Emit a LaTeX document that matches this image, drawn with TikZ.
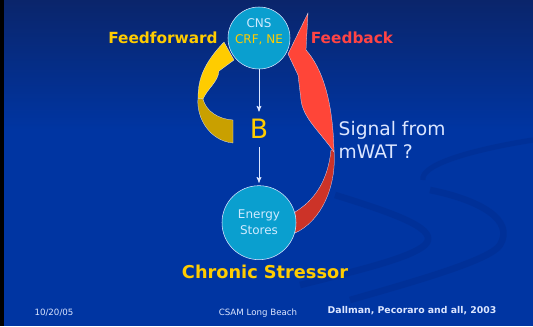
\documentclass[tikz,border=0pt]{standalone}
\usepackage{fontspec}
\setmainfont{DejaVu Sans}
\usetikzlibrary{arrows,positioning}

\definecolor{slidetop}{HTML}{0A256B}
\definecolor{slideblue}{HTML}{0035A2}
\definecolor{swoosh}{HTML}{002C8C}
\definecolor{hubfill}{HTML}{0A9FCF}
\definecolor{ffyellow}{HTML}{FFCC00}
\definecolor{ffgold}{HTML}{C9A000}
\definecolor{fbred}{HTML}{FF4538}
\definecolor{fbdark}{HTML}{CC3328}
\definecolor{fbtext}{HTML}{FF4444}
\definecolor{paletext}{HTML}{DCE6FF}
\definecolor{hubtext}{HTML}{CFEAFF}

\begin{document}
\begin{tikzpicture}[x=0.75pt,y=-0.75pt,>=stealth',node distance=68pt]
  \tikzstyle{hub}=[circle,fill=hubfill,draw=paletext,thin,inner sep=0pt]
  \tikzstyle{ribbon}=[draw=paletext,very thin]
  \tikzstyle{flow}=[->,draw=paletext,semithick,shorten >=2pt]
  \tikzstyle{footer}=[text=paletext,font=\fontsize{6.5}{8}\selectfont]

  % slide background
  \useasboundingbox (0,0) rectangle (533,326);
  \fill[slideblue] (0,0) rectangle (533,326);
  \shade[top color=slidetop,bottom color=slideblue] (0,0) rectangle (533,130);
  \draw[swoosh,line width=5pt,opacity=.45] (335,195) .. controls (400,215) and (440,230) .. (425,245)
        .. controls (410,258) and (360,270) .. (300,285);
  \draw[swoosh,line width=4pt,opacity=.45] (423,180) .. controls (420,165) and (470,150) .. (533,140);
  \draw[swoosh,line width=5pt,opacity=.45] (430,190) .. controls (480,200) and (515,220) .. (500,245)
        .. controls (490,260) and (420,280) .. (350,300);
  \fill[black] (0,0) rectangle (4,326);

  % feedforward ribbon
  \filldraw[ribbon,fill=ffgold] (198,98) .. controls (196,118) and (210,141) .. (233,143)
        -- (233,120) .. controls (218,119) and (206,111) .. (203,99) -- cycle;
  \filldraw[ribbon,fill=ffyellow] (198,98) .. controls (198,80) and (203,64) .. (224,42)
        -- (234,60) -- (219,71) .. controls (218,82) and (208,88) .. (203,99) -- cycle;

  % feedback ribbon
  \filldraw[ribbon,fill=fbdark] (334,150) .. controls (337,188) and (320,222) .. (295,233)
        -- (295,212) .. controls (315,200) and (328,180) .. (331,150) -- cycle;
  \filldraw[ribbon,fill=fbred] (308,13) -- (306,50) .. controls (322,68) and (333,100) .. (334,152)
        .. controls (320,132) and (303,118) .. (301,100) -- (298,75) -- (288,54) -- cycle;

  \node[hub,minimum size=46.5pt] (cns) at (259,38) {};
  \node[align=center,font=\fontsize{9}{12}\selectfont] (cnslabel) at (259,32)
        {{\color{hubtext}CNS}\\{\color{ffyellow}CRF, NE}};
  \node[text=ffyellow,font=\fontsize{20}{24}\selectfont] (b) [below of=cns] {B};
  \node[hub,minimum size=55.5pt,align=center,text=hubtext,font=\fontsize{9}{12}\selectfont]
        (energy) [below of=b,node distance=70.5pt] {Energy\\Stores};

  \draw[flow] (cns) -- (b);
  \draw[flow,shorten <=3pt] (b) -- (energy);

  \node[text=ffyellow,font=\bfseries\fontsize{11.5}{14}\selectfont] (ffwd) at (163,38) {Feedforward};
  \node[text=fbtext,font=\bfseries\fontsize{11.5}{14}\selectfont] (fback) at (352,38) {Feedback};
  \node[anchor=west,align=left,text=paletext,font=\fontsize{14}{17}\selectfont] (signal) at (334,140)
        {Signal from\\mWAT ?};
  \node[text=ffyellow,font=\bfseries\fontsize{13.3}{16}\selectfont] (stressor) at (265,272) {Chronic Stressor};

  \node[footer] (date) at (54,313) {10/20/05};
  \node[footer] (venue) at (258,313) {CSAM Long Beach};
  \node[footer,font=\bfseries\fontsize{7}{8}\selectfont] (cite) at (412,311) {Dallman, Pecoraro and all, 2003};
\end{tikzpicture}
\end{document}
